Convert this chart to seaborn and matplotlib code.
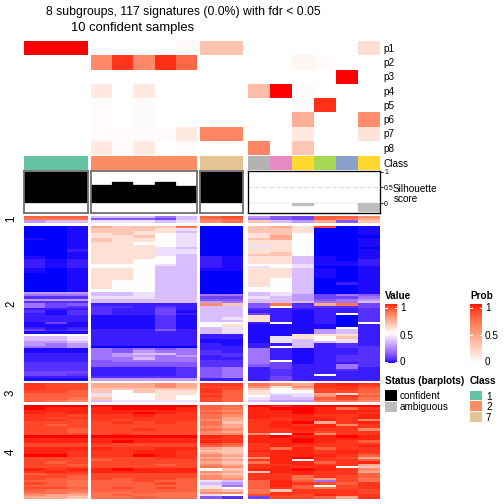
import numpy as np
import matplotlib
matplotlib.use("Agg")
import matplotlib.pyplot as plt
from matplotlib.colors import ListedColormap
from matplotlib.patches import Rectangle
from matplotlib.lines import Line2D
import seaborn as sns

# ---------------------------------------------------------------- data
title_line1 = "8 subgroups, 117 signatures (0.0%) with fdr < 0.05"
title_line2 = "10 confident samples"

col_group_names = ["1", "2", "7", "ambiguous"]
col_group_sizes = [3, 5, 2, 6]
col_class = [1, 1, 1, 2, 2, 2, 2, 2, 7, 7, 8, 4, 6, 5, 3, 6]
class_colors = {1: "#66C2A5", 2: "#FC8D62", 3: "#8DA0CB", 4: "#E78AC3",
                5: "#A6D854", 6: "#FFD92F", 7: "#E5C494", 8: "#B3B3B3"}
legend_classes = [1, 2, 7]
silhouette = [0.99, 0.99, 0.99, 0.58, 0.69, 0.58, 0.69, 0.55, 0.99, 0.99,
              0.0, 0.0, -0.08, 0.0, 0.0, -0.28]
status_names = ["confident", "ambiguous"]
status_colors = ["black", "#BEBEBE"]

prob_labels = ["p1", "p2", "p3", "p4", "p5", "p6", "p7", "p8"]
p1 = [1, 1, 1, 0, 0, 0, 0, 0.03, 0.32, 0.32, 0, 0, 0, 0, 0, 0.18]
p2 = [0, 0, 0, 0.60, 0.92, 0.60, 0.94, 0.75, 0, 0, 0, 0, 0.05, 0.02, 0, 0]
p3 = [0, 0, 0, 0, 0, 0, 0, 0, 0, 0, 0, 0, 0, 0, 1, 0]
p4 = [0, 0, 0, 0.12, 0, 0.12, 0, 0, 0, 0, 0.35, 1, 0.02, 0, 0, 0]
p5 = [0, 0, 0, 0.02, 0, 0.02, 0, 0, 0, 0, 0, 0, 0.02, 0.93, 0, 0]
p6 = [0, 0, 0, 0.02, 0, 0.02, 0, 0, 0, 0, 0, 0, 0.42, 0, 0, 0.58]
p7 = [0, 0, 0, 0.02, 0.02, 0.02, 0.02, 0.12, 0.62, 0.62, 0, 0, 0.12, 0, 0, 0.15]
p8 = [0, 0, 0, 0.12, 0.02, 0.12, 0, 0.02, 0, 0, 0.62, 0, 0.30, 0, 0, 0]

row_group_labels = ["1", "2", "3", "4"]
# signature values, one string per row, one letter per sample; each letter is a
# shade, its value given in LEVEL_VALUES. Spaces separate
# the column groups (1 | 2 | 7 | ambiguous).
LEVEL_VALUES = {
    "a": 0.00, "b": 0.01, "c": 0.03, "d": 0.06, "e": 0.10, "f": 0.14, "g": 0.20,
    "h": 0.28, "i": 0.36, "j": 0.43, "k": 0.50, "l": 0.58, "m": 0.65, "n": 0.72,
    "o": 0.79, "p": 0.85, "q": 0.89, "r": 0.93, "s": 0.96, "t": 0.98, "u": 1.00,
}
sig_rows_1 = [
    "qqq iiigi qr hfeqqo",
    "ppp fffei pq gfeqpn",
    "hii jjjij op mihnfm",
]
sig_rows_2 = [
    "aab nmmmp aa mnlrab", "aab mmmlj aa mmlaab", "aab mmlli aa mmlaab",
    "aab lmlkj aa lmkaab", "aab llmkj aa lnkaaa", "bab mllkj aa mnkaab",
    "aab mllkj aa llkaab", "aab llkkj aa llkaab", "aab lllkj aa jlkaab",
    "aab lllji aa llkaaa", "aac llljj aa llkaab", "aab llljj aa lmkaab",
    "aab lllji aa mmkaab", "bab lllki cb llibab", "cbc llkki cb llibac",
    "cbc llkki cb llibbc", "cbc kkkji cb kkjbbc", "cbc kkkii cb jkjaab",
    "bab llkii bb llibab", "bab llkii aa llibab", "aab llkii aa llibab",
    "aab llkii aa llibab", "aab llkii aa lkiaab", "aab lkkii aa lkiaab",
    "aab lkkii aa lkiacb", "aab lkkii aa lkiaab", "aab lkkii aa kkiaab",
    "aab kkkii aa kkiaab", "hhh iijii aa ijiaab", "ggg iijii gg ijhegf",
    "ddd jjjii ee jiheeg", "hhh iiiii ff iihfgh", "ddd iiiii hg iiiggi",
    "gef ccccc om fpdnpe", "ged ddcdc ii fkddde", "ccc dccec ii dccccd",
    "dbd dcceb ii ccbccd", "cbd dccec ii ecbckd", "ccc bbbdb ii lcbcad",
    "ccc bbbdb ij lcbcad", "ccc bbbdb ii lcbcad", "beb bbbdb kk ckbcak",
    "bbb bbbdb kl bbbbac", "cbc bbbdb ij bbbbkc", "ecd cccfc ij bbbhic",
    "bbb ccccc ij bbbhic", "kkk ccccc cc bblllc", "iij ccccc cc bjlkmc",
    "iij ccccc bb bjikjc", "hhi ccccc bb bjiijc", "hgh ccccc cb ccicdc",
    "ggh aaaaa cc ckicdd", "bbb gfgfg cc gcbccd", "bbb gfhgg dc gcbccd",
    "ccc ghiig dd gcbccd", "ccc ghhgh cd gcbcdd", "ccc ggigg cc gcbcdd",
    "ccc fgggg dd gkbcdd", "ddd fffff dd gebccd", "ddd fffff dd feccgd",
    "ddd ccccd fg ceccgc", "ddd ccccd fg cdccdc", "eee ccccd fg cdcccc",
    "eed ccccd fg cdckcc", "ccc ddddd fg cecccc", "bbb hhhhh cc cecccc",
]
sig_rows_3 = [
    "srr nnnon ss ponsts", "srr nnnon rr olossr", "srr mmmmm sr mkmrsq",
    "rrq mkmll sq lkkrrq", "qqq jkkll rq ljjnlp", "qqq lkklk sq kijosq",
    "qqp mkklk rq jiiqrp", "qpo ijjjj rq ihhppo",
]
sig_rows_4 = [
    "uuu uuuuu qp utuuuu", "utt tuuut qp tuutps", "ttt ttttt po ttuttt",
    "tst ttuts qp ttutts", "ssr sstss po tttsst", "srs sssss pn tsttst",
    "ssr srsss on ssttso", "rrr rsrsr pm stunst", "rqr rrrrr pn ststos",
    "rrr rrrrr on stttss", "rrq rrsrr po sstsso", "rrq rrrrr on sssrss",
    "rrr rsrrr oo okuoss", "uuu uuuuu ts tuttut", "ttt ttttt ss ttuttt",
    "ttt tuttt ts ttutsq", "rrr srrrr rq sttsss", "rrr rrrrr qp stssst",
    "ttt tsstt nm sptqss", "tts sstts mm tttsts", "tts sstts nm sttsts",
    "uus ssuts on stttsq", "rrr rrrss nm otusrn", "rrr qrrrr on stkssq",
    "rqr rrrrr nm pttqst", "rrq rrrqr on sstssn", "rrr rrrrr po ststkm",
    "tst tuttt km ttutso", "sts ttttt on mttssn", "qrr rrrrr nm sstssq",
    "rrq rrrrr on sspsrq", "rqq rqrrq oo sspnrp", "qqp qqrqq ji qtqgrp",
    "rqp qqqrq ih qtsrqs", "qqp qqqqq jg qtqkrs", "rrq qrqrq lk qsqprs",
    "qpp qqqqq nm pmsssr", "ppo ppqpp oo pssssr", "onn pqppp jk rsrtss",
    "nnm ppqpp fd errqns",
]


def decode(rows):
    out = []
    for r in rows:
        s = r.replace(" ", "")
        assert len(s) == 16, r
        out.append([LEVEL_VALUES[c] for c in s])
    return np.array(out)


sig_groups = [decode(sig_rows_1), decode(sig_rows_2), decode(sig_rows_3), decode(sig_rows_4)]
prob = np.array([p1, p2, p3, p4, p5, p6, p7, p8])

# ---------------------------------------------------------------- colour ramps (LAB, like colorRamp2)
M = np.array([[0.4124, 0.3576, 0.1805], [0.2126, 0.7152, 0.0722], [0.0193, 0.1192, 0.9505]])
WP = np.array([0.95047, 1.0, 1.08883])


def to_lab(rgb):
    rgb = np.asarray(rgb, float)
    lin = np.where(rgb <= 0.04045, rgb / 12.92, ((rgb + 0.055) / 1.055) ** 2.4)
    xyz = (lin @ M.T) / WP
    f = np.where(xyz > 0.008856, np.cbrt(xyz), 7.787 * xyz + 16 / 116)
    return np.stack([116 * f[..., 1] - 16, 500 * (f[..., 0] - f[..., 1]), 200 * (f[..., 1] - f[..., 2])], -1)


def to_rgb(lab):
    fy = (lab[..., 0] + 16) / 116
    fx = fy + lab[..., 1] / 500
    fz = fy - lab[..., 2] / 200
    f = np.stack([fx, fy, fz], -1)
    xyz = np.where(f ** 3 > 0.008856, f ** 3, (f - 16 / 116) / 7.787) * WP
    lin = np.clip(xyz @ np.linalg.inv(M).T, 0, 1)
    return np.clip(np.where(lin <= 0.0031308, 12.92 * lin, 1.055 * lin ** (1 / 2.4) - 0.055), 0, 1)


def lab_cmap(breaks, colors, n=256):
    labs = to_lab(np.array([matplotlib.colors.to_rgb(c) for c in colors]))
    t = np.linspace(0, 1, n)
    out = np.stack([np.interp(t, breaks, labs[:, k]) for k in range(3)], -1)
    return ListedColormap(to_rgb(out))


value_cmap = lab_cmap([0, 0.5, 1], ["blue", "white", "red"])
prob_cmap = lab_cmap([0, 1], ["white", "red"])

# ---------------------------------------------------------------- layout (pixel based)
plt.rcParams["font.family"] = ["Liberation Sans", "DejaVu Sans"]
W = H = 504
fig = plt.figure(figsize=(7, 7), dpi=72)
fig.patch.set_facecolor("white")


def rect(x0, y0, x1, y1):
    return [x0 / W, 1 - y1 / H, (x1 - x0) / W, (y1 - y0) / H]


def ftext(x, y, s, **kw):
    fig.text(x / W, 1 - y / H, s, **kw)


def fbox(x0, y0, x1, y1, color):
    fig.add_artist(Rectangle((x0 / W, 1 - y1 / H), (x1 - x0) / W, (y1 - y0) / H,
                             transform=fig.transFigure, facecolor=color, edgecolor="none"))


col_x = [(24, 88), (91, 197), (200, 243), (248, 380)]
row_y = [(215.8, 222.8), (226, 380.7), (383.3, 402.1), (405.1, 498.6)]
starts = np.cumsum([0] + col_group_sizes)


def clean(ax):
    ax.set_xticks([]); ax.set_yticks([])
    ax.set_xlabel(""); ax.set_ylabel("")
    for s in ax.spines.values():
        s.set_visible(False)


cls_codes = np.array([col_class])
cls_cmap = ListedColormap([class_colors[k] for k in range(1, 9)])

for j, (x0, x1) in enumerate(col_x):
    sl = slice(starts[j], starts[j + 1])
    n = col_group_sizes[j]
    # probability annotation
    ax = fig.add_axes(rect(x0, 41, x1, 155))
    sns.heatmap(prob[:, sl], ax=ax, cmap=prob_cmap, vmin=0, vmax=1, cbar=False,
                xticklabels=False, yticklabels=False)
    clean(ax)
    # class annotation
    ax = fig.add_axes(rect(x0, 156, x1, 170))
    sns.heatmap(cls_codes[:, sl], ax=ax, cmap=cls_cmap, vmin=0.5, vmax=8.5, cbar=False,
                xticklabels=False, yticklabels=False)
    clean(ax)
    # silhouette barplot
    ax = fig.add_axes(rect(x0, 171, x1, 213.3))
    amb = (j == 3)
    bar_col = status_colors[1] if amb else status_colors[0]
    ax.axhline(0.5, color="#D9D9D9", lw=1, ls=(0, (4, 3)), zorder=0)
    sns.barplot(x=list(range(n)), y=silhouette[sl], ax=ax, color=bar_col, width=1.0,
                saturation=1, errorbar=None, edgecolor=bar_col, linewidth=0.3)
    ax.set_xlim(-0.5, n - 0.5)
    ax.set_ylim(-0.33, 1.03)
    ax.set_xlabel(""); ax.set_ylabel(""); ax.set_xticks([])
    for s in ax.spines.values():
        s.set_visible(True)
        s.set_color("black" if amb else "#6E6E6E")
        s.set_linewidth(1.3 if amb else 1.8)
    if amb:
        ax.yaxis.tick_right()
        ax.set_yticks([0, 0.5, 1])
        ax.set_yticklabels(["0", "0.5", "1"], fontsize=7)
        ax.tick_params(axis="y", length=3, pad=1, width=0.8)
    else:
        ax.set_yticks([])
    # main heatmap blocks
    for i, (y0, y1) in enumerate(row_y):
        ax = fig.add_axes(rect(x0, y0, x1, y1))
        sns.heatmap(sig_groups[i][:, sl], ax=ax, cmap=value_cmap, vmin=0, vmax=1, cbar=False,
                    xticklabels=False, yticklabels=False)
        clean(ax)

# annotation labels
p_top, p_h = 41, (155 - 41) / 8
for k, lab in enumerate(prob_labels):
    ftext(383, p_top + p_h * (k + 0.5) + 3.8, lab, fontsize=10, va="baseline")
ftext(383, 166.8, "Class", fontsize=10, va="baseline")
ftext(393, 191.5, "Silhouette", fontsize=10, va="baseline")
ftext(394, 202, "score", fontsize=10, va="baseline")

# row group titles
for lab, (y0, y1) in zip(row_group_labels, row_y):
    ftext(11, (y0 + y1) / 2, lab, fontsize=11.5, rotation=90, ha="center", va="center")

# title
ftext(46, 14.5, title_line1, fontsize=12.3, va="baseline")
ftext(71, 31, title_line2, fontsize=13, va="baseline")

# ---------------------------------------------------------------- legends
def grad_legend(x0, title, cmap):
    ftext(x0, 299, title, fontsize=10, fontweight="bold", va="baseline")
    ax = fig.add_axes(rect(x0, 304, x0 + 12, 363))
    ax.imshow(np.linspace(1, 0, 200)[:, None], cmap=cmap, vmin=0, vmax=1, aspect="auto",
              extent=[0, 1, 0, 1])
    ax.set_axis_off()
    for v, ypx in [(1, 307.7), (0.5, 335), (0, 361.5)]:
        yy = 1 - (ypx - 304) / (363 - 304)
        ax.add_line(Line2D([0, 0.18], [yy, yy], color="white", lw=1))
        ax.add_line(Line2D([0.82, 1], [yy, yy], color="white", lw=1))
        ftext(x0 + 15, ypx + 3.6, {1: "1", 0.5: "0.5", 0: "0"}[v], fontsize=10, va="baseline")


grad_legend(385, "Value", value_cmap)
grad_legend(470, "Prob", prob_cmap)

ftext(385, 384, "Status (barplots)", fontsize=10, fontweight="bold", va="baseline")
for k, (nm, c) in enumerate(zip(status_names, status_colors)):
    y0 = 390 + 11.5 * k
    fbox(385, y0, 396.5, y0 + 10.5, c)
    ftext(400, y0 + 9, nm, fontsize=10, va="baseline")

ftext(470, 384, "Class", fontsize=10, fontweight="bold", va="baseline")
for k, cl in enumerate(legend_classes):
    y0 = 390.5 + 10.8 * k
    fbox(470, y0, 482, y0 + 9.8, class_colors[cl])
    ftext(486, y0 + 9, str(cl), fontsize=10, va="baseline")

fig.savefig("out.png", dpi=72, facecolor="white")
